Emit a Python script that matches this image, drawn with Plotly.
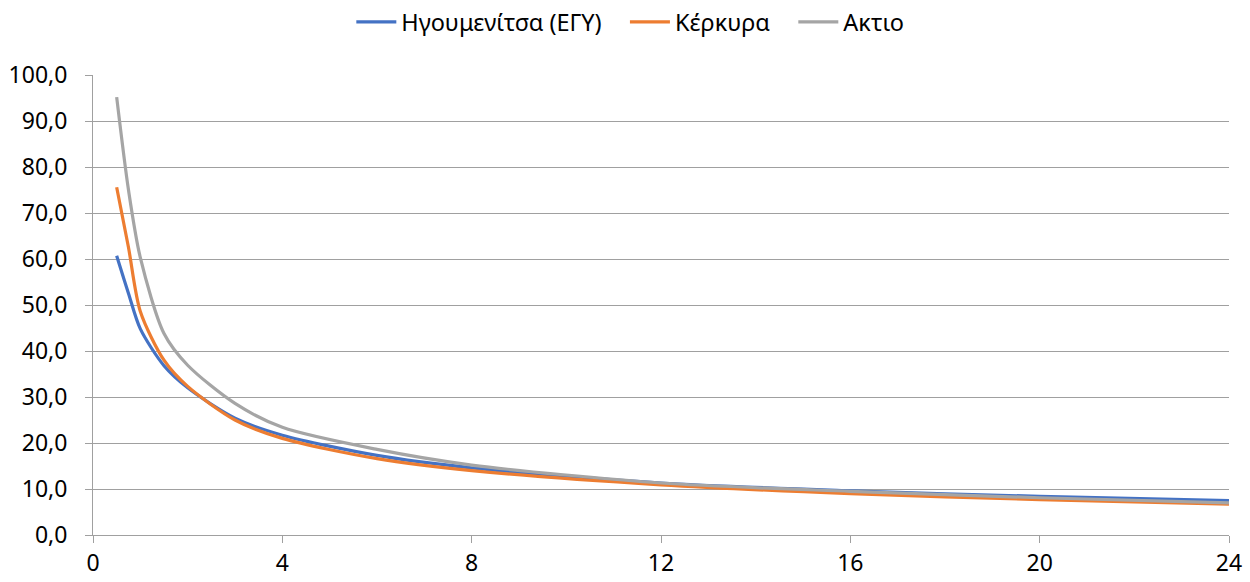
import plotly.graph_objects as go

hours = [0.5, 0.75, 1, 1.5, 2, 3, 4, 6, 8, 12, 16, 20, 24]
igoumenitsa = [60.7, 52.5, 44.8, 36.8, 32.0, 25.4, 21.7, 17.3, 14.6, 11.3, 9.6, 8.4, 7.5]
kerkyra = [75.6, 62.5, 48.6, 38.0, 32.3, 25.0, 21.0, 16.6, 14.0, 10.9, 9.0, 7.7, 6.7]
aktio = [95.2, 75.0, 60.3, 43.8, 36.9, 28.6, 23.4, 18.6, 15.2, 11.3, 9.5, 8.1, 7.0]

names = ["Ηγουμενίτσα (ΕΓΥ)", "Κέρκυρα", "Ακτιο"]
colors = ["#4472C4", "#ED7D31", "#A5A5A5"]
series = [igoumenitsa, kerkyra, aktio]

fig = go.Figure()
for i, (name, col, vals) in enumerate(zip(names, colors, series)):
    label = name + ("\u00a0\u00a0\u00a0" if i < len(names) - 1 else "")
    fig.add_trace(go.Scatter(x=hours, y=vals, mode="lines", name=label,
                             line=dict(color=col, width=3.2, shape="spline", smoothing=0.8)))

font_family = "Noto Sans, Liberation Sans, sans-serif"
fig.update_layout(
    width=1250, height=582,
    margin=dict(l=93, r=21, t=75, b=47, autoexpand=False),
    paper_bgcolor="white", plot_bgcolor="white",
    separators=",.",
    font=dict(family=font_family, size=23, color="#000000"),
    showlegend=True,
    legend=dict(orientation="h", x=0.473, xanchor="center", y=1.0, yanchor="top",
                yref="container", font=dict(size=23.5), itemwidth=40,
                traceorder="normal", bgcolor="rgba(0,0,0,0)"),
    xaxis=dict(range=[0, 24], dtick=4, tick0=0, showgrid=False, zeroline=False,
               showline=True, linecolor="#A0A0A0", linewidth=1,
               ticks="outside", ticklen=7, tickcolor="#A0A0A0", automargin=False,
               tickfont=dict(size=23), fixedrange=True),
    yaxis=dict(range=[0, 100], dtick=10, tick0=0, tickformat=".1f",
               showgrid=True, gridcolor="#A0A0A0", gridwidth=1, zeroline=False,
               showline=True, linecolor="#A0A0A0", linewidth=1,
               ticks="outside", ticklen=7, tickcolor="#A0A0A0", automargin=False,
               ticklabelstandoff=13,
               tickfont=dict(size=23), fixedrange=True),
)

fig.write_html("out.html")
